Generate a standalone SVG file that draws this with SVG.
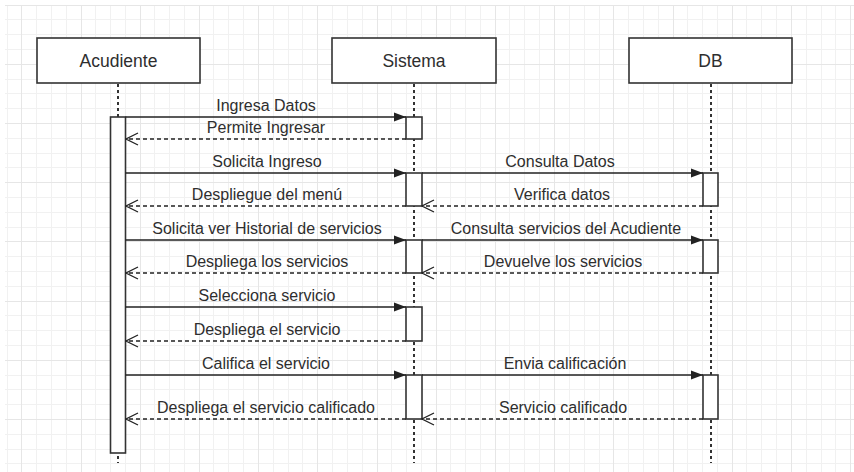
<svg xmlns="http://www.w3.org/2000/svg" width="854" height="472" viewBox="0 0 854 472">
  <defs>
    <marker id="block" viewBox="0 0 12 10" refX="12" refY="5" markerWidth="12" markerHeight="10" markerUnits="userSpaceOnUse" orient="auto">
      <path d="M0 0.5L12 5L0 9.5Z" fill="#222"/>
    </marker>
    <marker id="open" viewBox="0 0 14 14" refX="13" refY="7" markerWidth="14" markerHeight="14" markerUnits="userSpaceOnUse" orient="auto">
      <path d="M1 1L13 7L1 13" fill="none" stroke="#222" stroke-width="1.3"/>
    </marker>
  </defs>
  <style>
    .gmin { stroke: #f1f1f1; stroke-width: 1; fill: none; }
    .gmaj { stroke: #e6e6e6; stroke-width: 1; fill: none; }
    .head { fill: #fff; stroke: #333; stroke-width: 1.6; }
    .htxt { font-family: "Liberation Sans", Arial, sans-serif; font-size: 17.5px; fill: #2e2e2e; text-anchor: middle; }
    .life { stroke: #333; stroke-width: 2; stroke-dasharray: 3 3; fill: none; }
    .act { fill: #fff; stroke: #333; stroke-width: 1.6; }
    .call { stroke: #222; stroke-width: 1.4; fill: none; marker-end: url(#block); }
    .ret { stroke: #222; stroke-width: 1.3; stroke-dasharray: 4 3; fill: none; marker-end: url(#open); }
    .lbl { font-family: "Liberation Sans", Arial, sans-serif; font-size: 16px; fill: #2e2e2e; text-anchor: middle; }
  </style>
  <rect x="0" y="0" width="854" height="472" fill="#fff"/>
  <g id="grid">
    <path class="gmin" d="M7.5 5V472M36.5 5V472M51.5 5V472M66.5 5V472M95.5 5V472M110.5 5V472M125.5 5V472M154.5 5V472M169.5 5V472M184.5 5V472M213.5 5V472M228.5 5V472M243.5 5V472M273.5 5V472M288.5 5V472M302.5 5V472M332.5 5V472M347.5 5V472M362.5 5V472M391.5 5V472M406.5 5V472M421.5 5V472M450.5 5V472M465.5 5V472M480.5 5V472M509.5 5V472M524.5 5V472M539.5 5V472M569.5 5V472M584.5 5V472M599.5 5V472M628.5 5V472M643.5 5V472M658.5 5V472M687.5 5V472M702.5 5V472M717.5 5V472M746.5 5V472M761.5 5V472M776.5 5V472M806.5 5V472M821.5 5V472M835.5 5V472
      M5 19.5H854M5 34.5H854M5 49.5H854M5 79.5H854M5 93.5H854M5 108.5H854M5 138.5H854M5 153.5H854M5 167.5H854M5 197.5H854M5 212.5H854M5 227.5H854M5 256.5H854M5 271.5H854M5 286.5H854M5 315.5H854M5 330.5H854M5 345.5H854M5 375.5H854M5 389.5H854M5 404.5H854M5 434.5H854M5 449.5H854M5 463.5H854"/>
    <path class="gmaj" d="M21.5 5V472M81.5 5V472M140.5 5V472M199.5 5V472M258.5 5V472M317.5 5V472M377.5 5V472M436.5 5V472M495.5 5V472M554.5 5V472M613.5 5V472M673.5 5V472M732.5 5V472M791.5 5V472M850.5 5V472
      M5 5.5H854M5 64.5H854M5 123.5H854M5 182.5H854M5 241.5H854M5 301.5H854M5 360.5H854M5 419.5H854"/>
  </g>

  <g id="acudiente">
    <rect class="head" x="37" y="38" width="163" height="45"/>
    <text class="htxt" x="118.5" y="67">Acudiente</text>
    <line class="life" x1="118" y1="84" x2="118" y2="463"/>
    <rect class="act" x="110.5" y="117" width="15" height="336"/>
  </g>
  <g id="sistema">
    <rect class="head" x="332" y="38" width="164" height="45"/>
    <text class="htxt" x="414" y="67">Sistema</text>
    <line class="life" x1="414" y1="84" x2="414" y2="463"/>
    <rect class="act" x="406" y="117" width="16" height="22"/>
    <rect class="act" x="406" y="173" width="16" height="33"/>
    <rect class="act" x="406" y="240" width="16" height="33"/>
    <rect class="act" x="406" y="307" width="16" height="34"/>
    <rect class="act" x="406" y="375" width="16" height="44"/>
  </g>
  <g id="db">
    <rect class="head" x="629" y="38" width="163" height="45"/>
    <text class="htxt" x="710.5" y="67">DB</text>
    <line class="life" x1="711" y1="84" x2="711" y2="463"/>
    <rect class="act" x="703" y="173" width="15" height="33"/>
    <rect class="act" x="703" y="240" width="15" height="33"/>
    <rect class="act" x="703" y="375" width="15" height="44"/>
  </g>

  <g id="connectors">
    <line class="call" x1="125.5" y1="117" x2="406" y2="117"/>
    <line class="ret" x1="406" y1="139" x2="126" y2="139"/>
    <line class="call" x1="125.5" y1="173" x2="406" y2="173"/>
    <line class="call" x1="422" y1="173" x2="703" y2="173"/>
    <line class="ret" x1="406" y1="206" x2="126" y2="206"/>
    <line class="ret" x1="703" y1="206" x2="422" y2="206"/>
    <line class="call" x1="125.5" y1="240" x2="406" y2="240"/>
    <line class="call" x1="422" y1="240" x2="703" y2="240"/>
    <line class="ret" x1="406" y1="273" x2="126" y2="273"/>
    <line class="ret" x1="703" y1="273" x2="422" y2="273"/>
    <line class="call" x1="125.5" y1="307" x2="406" y2="307"/>
    <line class="ret" x1="406" y1="341" x2="126" y2="341"/>
    <line class="call" x1="125.5" y1="375" x2="406" y2="375"/>
    <line class="call" x1="422" y1="375" x2="703" y2="375"/>
    <line class="ret" x1="406" y1="419" x2="126" y2="419"/>
    <line class="ret" x1="703" y1="419" x2="422" y2="419"/>

    <text class="lbl" x="266" y="111">Ingresa Datos</text>
    <text class="lbl" x="266" y="133">Permite Ingresar</text>
    <text class="lbl" x="267" y="167">Solicita Ingreso</text>
    <text class="lbl" x="560" y="167">Consulta Datos</text>
    <text class="lbl" x="267" y="200">Despliegue del menú</text>
    <text class="lbl" x="562" y="200">Verifica datos</text>
    <text class="lbl" x="267" y="234">Solicita ver Historial de servicios</text>
    <text class="lbl" x="566" y="234">Consulta servicios del Acudiente</text>
    <text class="lbl" x="267" y="267">Despliega los servicios</text>
    <text class="lbl" x="563" y="267">Devuelve los servicios</text>
    <text class="lbl" x="267" y="301">Selecciona servicio</text>
    <text class="lbl" x="267" y="335">Despliega el servicio</text>
    <text class="lbl" x="266" y="369">Califica el servicio</text>
    <text class="lbl" x="565" y="369">Envia calificación</text>
    <text class="lbl" x="266" y="413">Despliega el servicio calificado</text>
    <text class="lbl" x="563" y="413">Servicio calificado</text>
  </g>
</svg>
